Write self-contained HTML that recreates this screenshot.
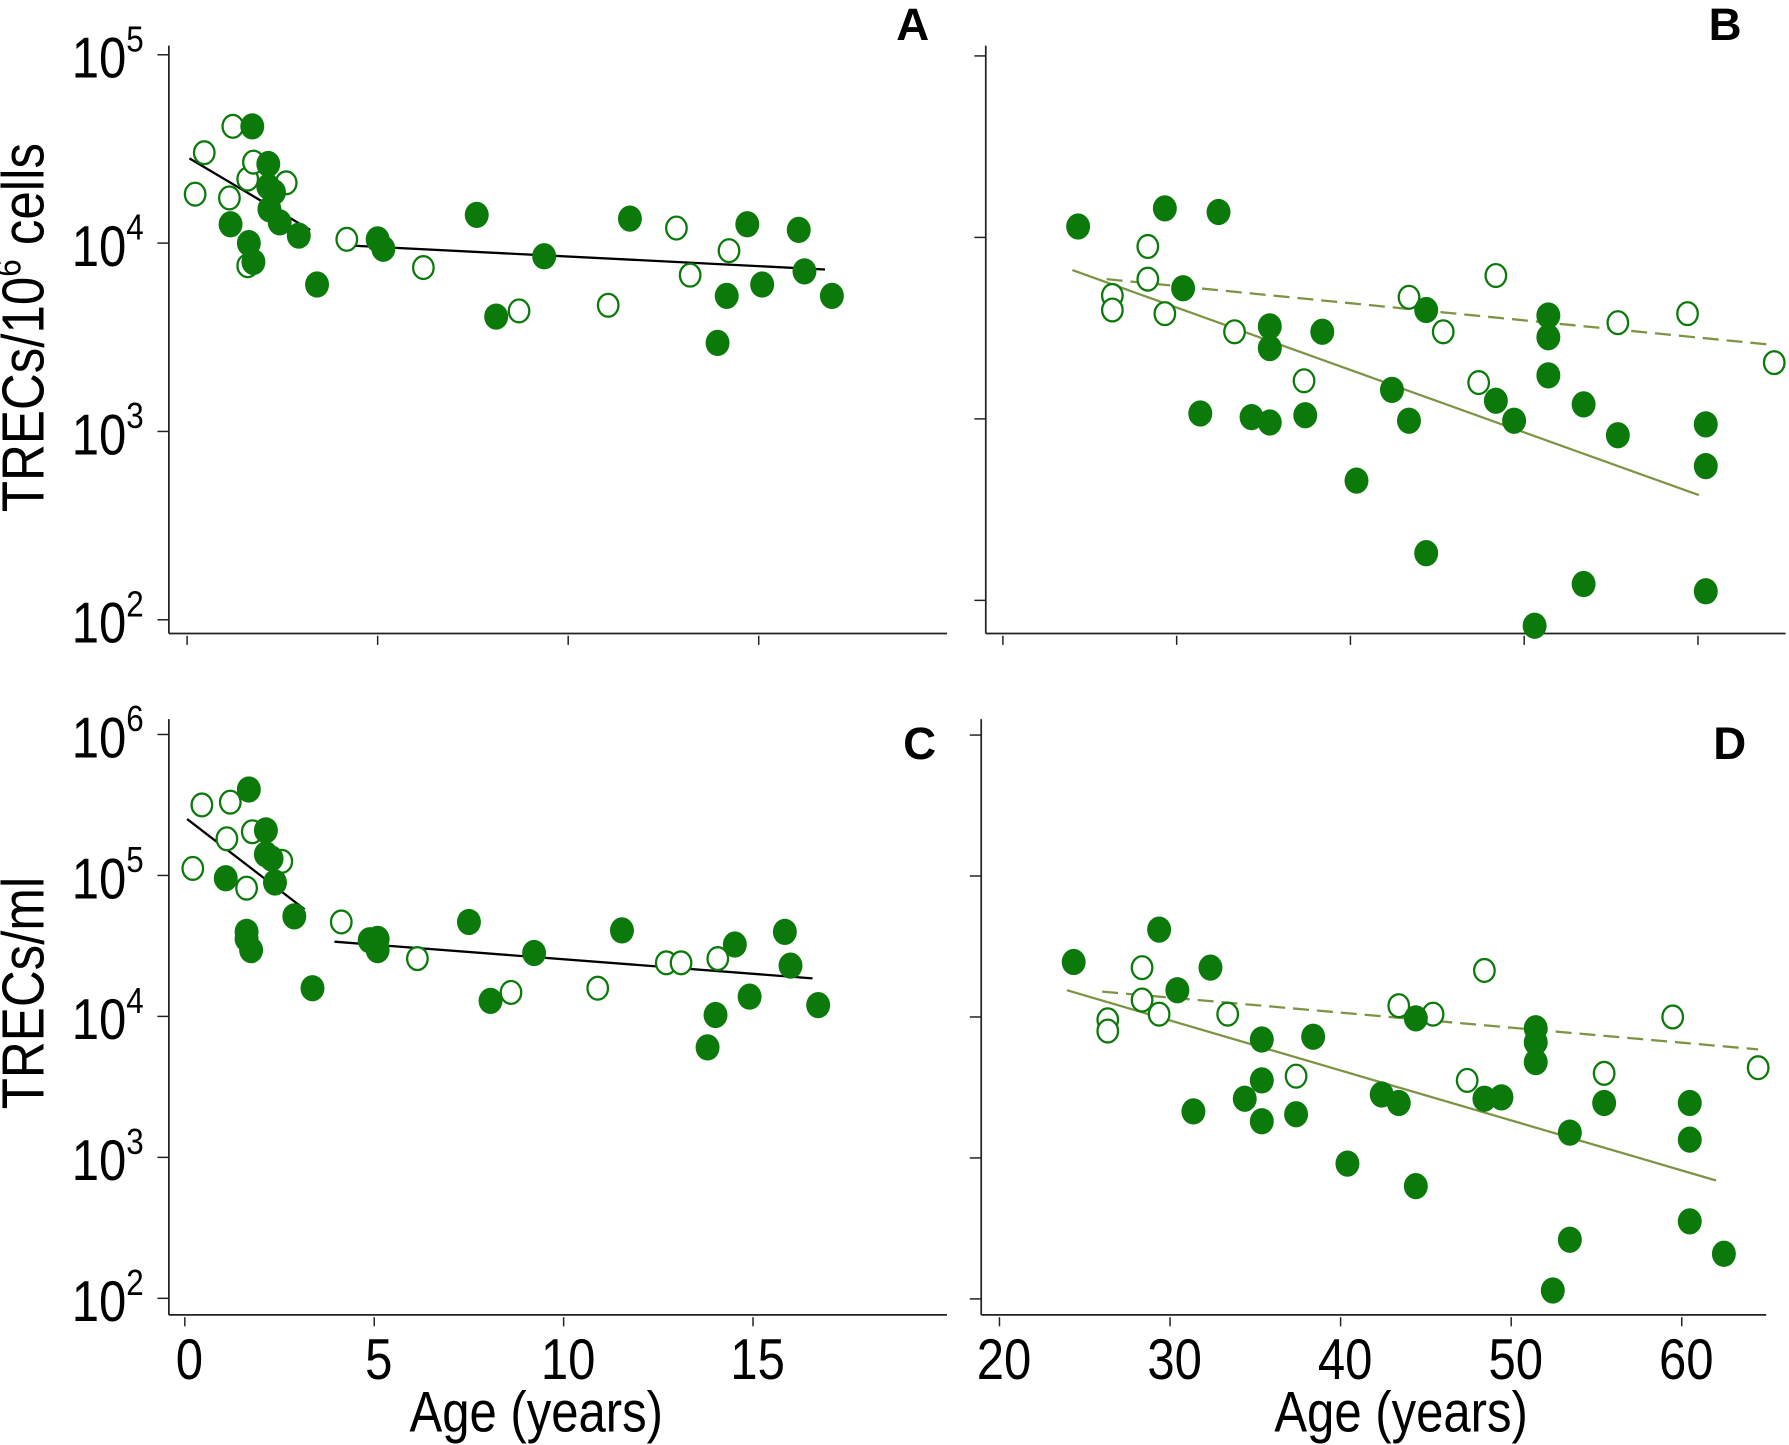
<!DOCTYPE html>
<html><head><meta charset="utf-8"><style>
html,body{margin:0;padding:0;background:#fff}
svg{display:block}
text{font-family:"Liberation Sans",sans-serif;fill:#000}
</style></head><body>
<svg id="fig" width="1789" height="1445" viewBox="0 0 1568 1266" preserveAspectRatio="none" xmlns="http://www.w3.org/2000/svg">
<g id="static"></g>
<g id="marks"></g>
</svg>
<script>
// ---- Data (age in years, log10 TRECs) ----
const aFilledAge=[1.71,2.13,1.14,1.62,1.74,2.13,2.28,2.16,2.43,2.93,3.41,5.00,5.15,7.60,8.11,9.37,11.62,13.92,14.16,14.70,15.09,16.05,16.20,16.92];
const aFilledLog=[4.62,4.42,4.10,4.00,3.90,4.30,4.27,4.18,4.11,4.04,3.78,4.02,3.97,4.15,3.61,3.93,4.13,3.47,3.72,4.10,3.78,4.07,3.85,3.72];
const aOpenAge=[0.21,0.45,1.20,1.11,1.59,1.74,1.59,2.60,4.19,6.20,8.71,11.05,12.84,13.20,14.22];
const aOpenLog=[4.26,4.48,4.62,4.24,4.34,4.43,3.88,4.32,4.02,3.87,3.64,3.67,4.08,3.83,3.96];
const aFitAge=[[0.06,3.23],[4.0,16.74]];
const aFitLog=[[4.45,4.07],[3.99,3.86]];

const bFilledAge=[24.33,29.32,32.41,30.37,31.36,34.31,35.36,35.36,35.36,37.40,38.38,40.35,42.39,43.37,44.36,44.36,48.37,49.42,51.39,51.39,51.39,50.60,53.42,53.42,55.39,60.45,60.45,60.45];
const bFilledLog=[4.06,4.16,4.14,3.72,3.03,3.01,3.51,3.39,2.98,3.02,3.48,2.66,3.16,2.99,3.60,2.26,3.10,2.99,3.57,3.45,3.24,1.86,3.08,2.09,2.91,2.97,2.74,2.05];
const bOpenAge=[26.30,26.30,28.34,28.34,29.32,33.33,37.33,43.37,45.34,48.37,47.38,55.39,59.40,64.39];
const bOpenLog=[3.68,3.60,3.95,3.77,3.58,3.48,3.21,3.67,3.48,3.79,3.20,3.53,3.58,3.31];
const bFitAge=[[24.0,60.05],[25.97,64.06]];
const bFitLog=[[3.82,2.58],[3.77,3.41]];

const cFilledAge=[1.69,2.14,2.14,2.29,2.38,1.08,1.63,1.63,1.75,2.89,3.37,4.88,5.09,5.09,7.50,8.07,9.22,11.54,13.80,14.01,14.52,14.91,15.84,15.99,16.72];
const cFilledLog=[5.61,5.32,5.15,5.12,4.95,4.98,4.60,4.55,4.47,4.71,4.20,4.54,4.55,4.47,4.67,4.11,4.45,4.61,3.78,4.01,4.51,4.14,4.60,4.36,4.08];
const cOpenAge=[0.21,0.45,1.20,1.11,1.63,1.78,2.56,4.13,6.14,8.61,10.90,12.71,13.10,14.07];
const cOpenLog=[5.05,5.50,5.52,5.26,4.91,5.31,5.10,4.67,4.41,4.17,4.20,4.38,4.38,4.41];
const cFitAge=[[0.06,3.16],[3.95,16.57]];
const cFitLog=[[5.40,4.76],[4.53,4.27]];

const dFilledAge=[24.35,29.36,30.43,32.37,31.37,34.38,35.38,35.38,35.38,37.39,38.39,40.40,42.41,43.41,44.41,44.41,48.43,49.43,51.44,51.44,51.44,52.44,53.44,53.44,55.45,60.47,60.47,60.47,62.47];
const dFilledLog=[4.39,4.62,4.19,4.35,3.33,3.42,3.84,3.55,3.26,3.31,3.86,2.96,3.45,3.39,3.99,2.80,3.42,3.43,3.92,3.82,3.68,2.06,3.18,2.42,3.39,3.39,3.13,2.55,2.32];
const dOpenAge=[26.35,26.35,28.36,28.36,29.36,33.38,37.39,43.41,45.42,47.42,48.43,55.45,59.47,64.48];
const dOpenLog=[3.98,3.90,4.35,4.12,4.02,4.02,3.58,4.08,4.02,3.55,4.33,3.60,4.00,3.64];
const dFitAge=[[23.95,62.01],[26.02,64.48]];
const dFitLog=[[4.19,2.84],[4.18,3.77]];

const xTicksYoung=[0,5,10,15];
const xTicksAdult=[20,30,40,50,60];
const yExpAB=[5,4,3,2];
const yExpCD=[6,5,4,3,2];

const NS="http://www.w3.org/2000/svg";
const GREEN="#0b7a0b", OLIVE="#7c9444";
const st=document.getElementById('static'), mk=document.getElementById('marks');
function el(tag,attrs,parent){const e=document.createElementNS(NS,tag);for(const k in attrs)e.setAttribute(k,attrs[k]);parent.appendChild(e);return e;}
function ntext(parent,x,y,size,anchor,rot){
 const tr='translate('+x+' '+y+')'+(rot?' rotate(-90)':'')+' scale(0.86 1)';
 return el('text',{x:0,y:0,'text-anchor':anchor,'font-size':size,transform:tr},parent);
}

const panels=[
 {id:'a',x0:164,ppy:33.4,ax0:0,yRef:213,refExp:4,dec:165,axX:148,axTop:40,axY:555,axR:830,exps:yExpAB,xt:xTicksYoung,showX:false,fA:aFilledAge,fL:aFilledLog,oA:aOpenAge,oL:aOpenLog,fitA:aFitAge,fitL:aFitLog,lineCol:'#000',letter:'A',lx:800,ly:35,showY:true},
 {id:'b',x0:879,ppy:15.23,ax0:20,yRef:208,refExp:4,dec:159,axX:864,axTop:40,axY:555,axR:1565,exps:yExpAB,xt:xTicksAdult,showX:false,fA:bFilledAge,fL:bFilledLog,oA:bOpenAge,oL:bOpenLog,fitA:bFitAge,fitL:bFitLog,lineCol:OLIVE,letter:'B',lx:1512,ly:35,showY:false},
 {id:'c',x0:162,ppy:33.2,ax0:0,yRef:767,refExp:5,dec:123.5,axX:148,axTop:630,axY:1152,axR:830,exps:yExpCD,xt:xTicksYoung,showX:true,fA:cFilledAge,fL:cFilledLog,oA:cOpenAge,oL:cOpenLog,fitA:cFitAge,fitL:cFitLog,lineCol:'#000',letter:'C',lx:806,ly:665,showY:true},
 {id:'d',x0:876,ppy:14.95,ax0:20,yRef:891,refExp:4,dec:123.5,axX:860,axTop:630,axY:1152,axR:1548,exps:yExpCD,xt:xTicksAdult,showX:true,fA:dFilledAge,fL:dFilledLog,oA:dOpenAge,oL:dOpenLog,fitA:dFitAge,fitL:dFitLog,lineCol:OLIVE,letter:'D',lx:1516,ly:665,showY:false}
];

panels.forEach(p=>{
 const xs=a=>p.x0+(a-p.ax0)*p.ppy;
 const ys=l=>p.yRef-(l-p.refExp)*p.dec;
 const g=el('g',{},st);
 
 
 const ya=el('line',{x1:p.axX,y1:p.axTop,x2:p.axX,y2:p.axY,stroke:'#222','stroke-width':1.5},g);
 
 
 const xa=el('line',{x1:p.axX,y1:p.axY,x2:p.axR,y2:p.axY,stroke:'#222','stroke-width':1.5},g);
 
 
 p.exps.forEach(e=>{
  const y=ys(e);
  const t=el('line',{x1:p.axX-10,y1:y,x2:p.axX,y2:y,stroke:'#222','stroke-width':1.3},g);
  
  
  if(p.showY){
   const tx=ntext(g,p.axX-22,y+20,50,'end',false);
   
   
   tx.textContent='10';
   const sp=el('tspan',{dy:-23,'font-size':32},tx);sp.textContent=e;
  }
 });
 p.xt.forEach(v=>{
  const x=xs(v);
  const t=el('line',{x1:x,y1:p.axY+2,x2:x,y2:p.axY+10,stroke:'#222','stroke-width':1.3},g);
  
  
  if(p.showX){
   const tx=ntext(g,x+4,p.axY+56,50,'middle',false);
   
   
   tx.textContent=v;
  }
 });
 const L=el('text',{x:p.lx,y:p.ly,'text-anchor':'middle','font-size':40,'font-weight':'bold'},g);
 
 
 L.textContent=p.letter;

 const mg=el('g',{},mk);
 
 
 p.fitA.forEach((fa,i)=>{
  const ln=el('line',{x1:xs(fa[0]),y1:ys(p.fitL[i][0]),x2:xs(fa[1]),y2:ys(p.fitL[i][1]),stroke:p.lineCol,'stroke-width':2},mg);
  if(p.lineCol===OLIVE&&i===1)ln.setAttribute('stroke-dasharray','14 7');
  
  
 });
 p.oA.forEach((a,i)=>{
  const c=el('ellipse',{cx:xs(a),cy:ys(p.oL[i]),rx:9,ry:10,fill:'#fff',stroke:GREEN,'stroke-width':2},mg);
  
  
 });
 p.fA.forEach((a,i)=>{
  const c=el('ellipse',{cx:xs(a),cy:ys(p.fL[i]),rx:10.5,ry:11.5,fill:GREEN},mg);
  
  
 });
});

let t1=ntext(st,38,287,52,'middle',true);


t1.textContent='TRECs/10';
let s1=el('tspan',{dy:-20,'font-size':32},t1);s1.textContent='6';
let s2=el('tspan',{dy:20},t1);s2.textContent=' cells';
let t2=ntext(st,38,870,52,'middle',true);


t2.textContent='TRECs/ml';
let t3=ntext(st,470,1254,50,'middle',false);


t3.textContent='Age (years)';
let t4=ntext(st,1228,1254,50,'middle',false);


t4.textContent='Age (years)';
</script>
</body></html>
